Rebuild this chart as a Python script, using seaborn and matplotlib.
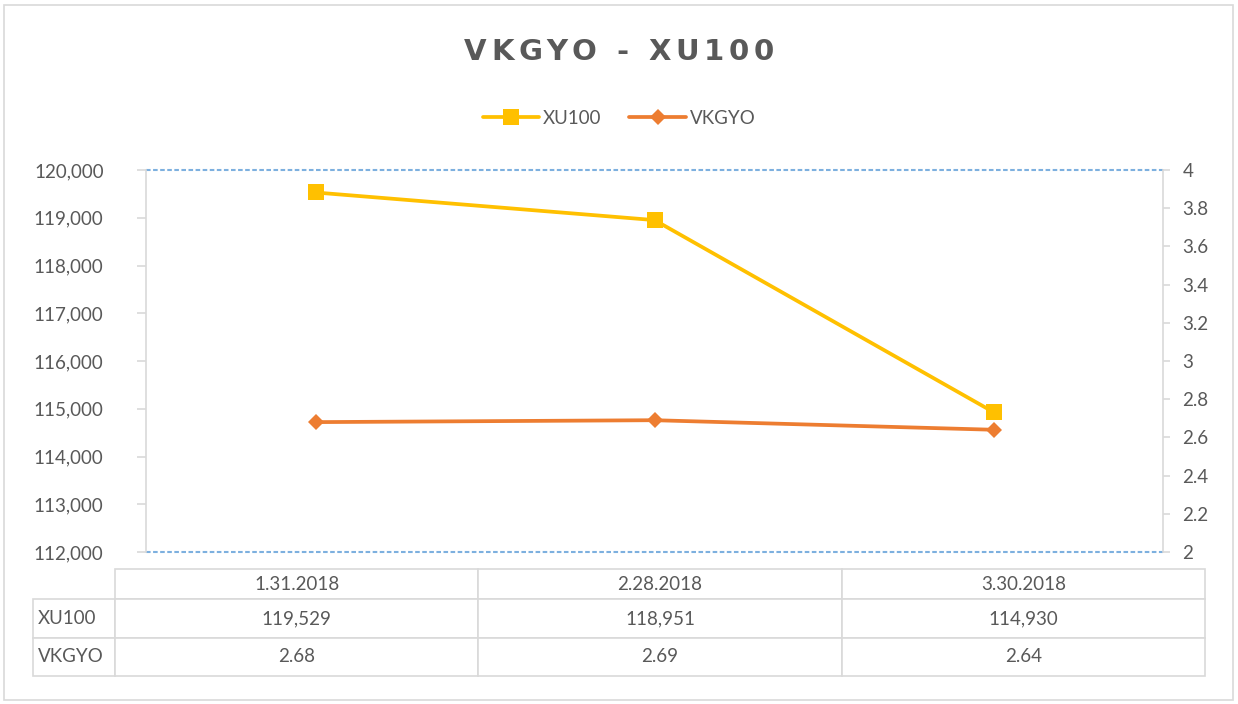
import matplotlib
matplotlib.use("Agg")
import matplotlib.pyplot as plt
import matplotlib.ticker as mticker
from matplotlib.patches import Rectangle
import seaborn as sns
import pandas as pd

# chart data
dates = ["1.31.2018", "2.28.2018", "3.30.2018"]
xu100 = [119529, 118951, 114930]
vkgyo = [2.68, 2.69, 2.64]
title = "VKGYO - XU100"

sns.set_style("white")
plt.rcParams["font.family"] = ["Lato", "DejaVu Sans"]
text_color = "#595959"
grid_color = "#D9D9D9"

df = pd.DataFrame({"date": dates, "XU100": xu100, "VKGYO": vkgyo})

W, H = 1238, 704
fig = plt.figure(figsize=(W / 100, H / 100), dpi=100)
ax = fig.add_axes([146 / W, 1 - 552 / H, (1163 - 146) / W, (552 - 170) / H])
ax2 = ax.twinx()

sns.lineplot(data=df, x="date", y="XU100", ax=ax, color="#FFC000", lw=2.7,
             marker="s", markersize=12, markeredgewidth=0, label="XU100", legend=False)
sns.lineplot(data=df, x="date", y="VKGYO", ax=ax2, color="#ED7D31", lw=2.7,
             marker="D", markersize=8, markeredgewidth=0, label="VKGYO", legend=False)

ax.set_xlim(-0.5, 2.5)
ax.set_ylim(112000, 120000)
ax.yaxis.set_major_locator(mticker.MultipleLocator(1000))
ax.yaxis.set_major_formatter(mticker.FuncFormatter(lambda v, p: f"{v:,.0f}"))
ax2.set_ylim(2, 4)
ax2.yaxis.set_major_locator(mticker.MultipleLocator(0.2))
ax2.yaxis.set_major_formatter(mticker.FuncFormatter(lambda v, p: f"{v:.1f}".rstrip("0").rstrip(".")))

for a in (ax, ax2):
    a.set_xlabel("")
    a.set_ylabel("")
    a.set_xticks([])
    a.spines["top"].set_visible(False)
    a.spines["bottom"].set_visible(False)
    for s in ("left", "right"):
        a.spines[s].set_color(grid_color)
        a.spines[s].set_linewidth(1.2)
ax.spines["right"].set_visible(False)
ax2.spines["left"].set_visible(False)
ax.tick_params(axis="y", colors=grid_color, labelcolor=text_color, labelsize=13.5,
               length=6.5, width=1.2, direction="out", pad=24)
ax2.tick_params(axis="y", colors=grid_color, labelcolor=text_color, labelsize=13.5,
                length=5, width=1.2, direction="out", pad=9)

# the only gridlines shown: top and bottom of the value range
for yv in (112000, 120000):
    ax.axhline(yv, color="#7DB0DF", lw=1.5, ls=(0, (2.2, 1.2)), zorder=1, clip_on=False)

# letter-spaced title, placed character by character
renderer = fig.canvas.get_renderer()
tkw = dict(fontsize=21, fontweight="bold", color=text_color, family="DejaVu Sans", va="center")

def text_w(s):
    t = fig.text(0, 0, s, **tkw)
    w = t.get_window_extent(renderer).width
    t.remove()
    return w

spacing = 4.8
total = text_w(title) + spacing * (len(title) - 1)
x0 = W / 2 - total / 2
for i, ch in enumerate(title):
    if ch == " ":
        continue
    left = text_w(title[:i + 1]) - text_w(ch) + spacing * i
    fig.text((x0 + left) / W, 1 - 52 / H, ch, ha="left", **tkw)

h1, l1 = ax.get_legend_handles_labels()
h2, l2 = ax2.get_legend_handles_labels()
fig.legend(h1 + h2, l1 + l2, loc="center", bbox_to_anchor=(0.5, 1 - 118 / H),
           ncol=2, frameon=False, fontsize=13.5, labelcolor=text_color,
           handlelength=3, columnspacing=1.5, handletextpad=0.2)

# data table below the plot
tax = fig.add_axes([33 / W, 1 - 676 / H, (1205 - 33) / W, (676 - 569) / H])
tax.axis("off")
rows = [[""] + dates,
        ["XU100"] + [f"{v:,}" for v in xu100],
        ["VKGYO"] + [f"{v:.2f}" for v in vkgyo]]
tbl = tax.table(cellText=rows, cellLoc="center", bbox=[0, 0, 1, 1])
tbl.auto_set_font_size(False)
label_w = 82 / 1172
col_w = (1 - label_w) / 3
heights = [30, 38, 38]
for (r, c), cell in tbl.get_celld().items():
    cell.set_edgecolor(grid_color)
    cell.set_linewidth(1.2)
    cell.get_text().set_color(text_color)
    cell.get_text().set_fontsize(13.5)
    cell.set_width(label_w if c == 0 else col_w)
    cell.set_height(heights[r])
    if c == 0:
        cell.get_text().set_ha("left")
        cell._loc = "left"
        cell.PAD = 0.06
    if r == 0 and c == 0:
        cell.visible_edges = ""

fig.patches.append(Rectangle((4 / W, 4 / H), 1 - 9 / W, 1 - 9 / H,
                             transform=fig.transFigure, fill=False,
                             edgecolor=grid_color, lw=1.2))

fig.savefig("out.png", dpi=100)
